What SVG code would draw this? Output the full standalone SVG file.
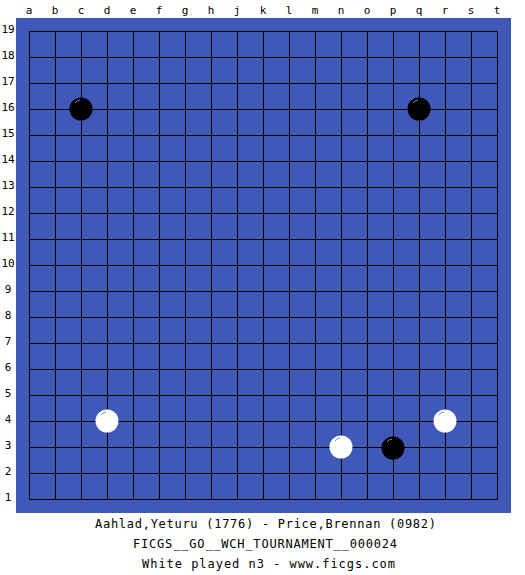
<svg xmlns="http://www.w3.org/2000/svg" width="525" height="575" viewBox="0 0 525 575">
<style>
.lbl{font-family:"DejaVu Sans Mono","Liberation Mono",monospace;font-size:11px;fill:#000;text-anchor:middle}
.cap{font-family:"DejaVu Sans Mono","Liberation Mono",monospace;font-size:12px;fill:#000}
.grid line{stroke:#000;stroke-width:1}
.b{fill:#000}
.w{fill:#fff}
.hb{fill:none;stroke:#8890b8;stroke-width:1}
.hw{fill:none;stroke:#7890c0;stroke-width:1}
</style>
<rect width="525" height="575" fill="#fff"/>
<rect x="16" y="18" width="495" height="495" fill="#4058b8"/>
<g class="grid" id="grid">
<line x1="29.5" y1="31.5" x2="29.5" y2="499.5"/><line x1="55.5" y1="31.5" x2="55.5" y2="499.5"/><line x1="81.5" y1="31.5" x2="81.5" y2="499.5"/><line x1="107.5" y1="31.5" x2="107.5" y2="499.5"/><line x1="133.5" y1="31.5" x2="133.5" y2="499.5"/><line x1="159.5" y1="31.5" x2="159.5" y2="499.5"/><line x1="185.5" y1="31.5" x2="185.5" y2="499.5"/><line x1="211.5" y1="31.5" x2="211.5" y2="499.5"/><line x1="237.5" y1="31.5" x2="237.5" y2="499.5"/><line x1="263.5" y1="31.5" x2="263.5" y2="499.5"/><line x1="289.5" y1="31.5" x2="289.5" y2="499.5"/><line x1="315.5" y1="31.5" x2="315.5" y2="499.5"/><line x1="341.5" y1="31.5" x2="341.5" y2="499.5"/><line x1="367.5" y1="31.5" x2="367.5" y2="499.5"/><line x1="393.5" y1="31.5" x2="393.5" y2="499.5"/><line x1="419.5" y1="31.5" x2="419.5" y2="499.5"/><line x1="445.5" y1="31.5" x2="445.5" y2="499.5"/><line x1="471.5" y1="31.5" x2="471.5" y2="499.5"/><line x1="497.5" y1="31.5" x2="497.5" y2="499.5"/>
<line x1="29.5" y1="31.5" x2="497.5" y2="31.5"/><line x1="29.5" y1="57.5" x2="497.5" y2="57.5"/><line x1="29.5" y1="83.5" x2="497.5" y2="83.5"/><line x1="29.5" y1="109.5" x2="497.5" y2="109.5"/><line x1="29.5" y1="135.5" x2="497.5" y2="135.5"/><line x1="29.5" y1="161.5" x2="497.5" y2="161.5"/><line x1="29.5" y1="187.5" x2="497.5" y2="187.5"/><line x1="29.5" y1="213.5" x2="497.5" y2="213.5"/><line x1="29.5" y1="239.5" x2="497.5" y2="239.5"/><line x1="29.5" y1="265.5" x2="497.5" y2="265.5"/><line x1="29.5" y1="291.5" x2="497.5" y2="291.5"/><line x1="29.5" y1="317.5" x2="497.5" y2="317.5"/><line x1="29.5" y1="343.5" x2="497.5" y2="343.5"/><line x1="29.5" y1="369.5" x2="497.5" y2="369.5"/><line x1="29.5" y1="395.5" x2="497.5" y2="395.5"/><line x1="29.5" y1="421.5" x2="497.5" y2="421.5"/><line x1="29.5" y1="447.5" x2="497.5" y2="447.5"/><line x1="29.5" y1="473.5" x2="497.5" y2="473.5"/><line x1="29.5" y1="499.5" x2="497.5" y2="499.5"/>
</g>
<g id="col-labels">
<text class="lbl" x="29" y="14">a</text><text class="lbl" x="55" y="14">b</text><text class="lbl" x="81" y="14">c</text><text class="lbl" x="107" y="14">d</text><text class="lbl" x="133" y="14">e</text><text class="lbl" x="159" y="14">f</text><text class="lbl" x="185" y="14">g</text><text class="lbl" x="211" y="14">h</text><text class="lbl" x="237" y="14">j</text><text class="lbl" x="263" y="14">k</text><text class="lbl" x="289" y="14">l</text><text class="lbl" x="315" y="14">m</text><text class="lbl" x="341" y="14">n</text><text class="lbl" x="367" y="14">o</text><text class="lbl" x="393" y="14">p</text><text class="lbl" x="419" y="14">q</text><text class="lbl" x="445" y="14">r</text><text class="lbl" x="471" y="14">s</text><text class="lbl" x="497" y="14">t</text>
</g>
<g id="row-labels">
<text class="lbl" x="8" y="33">19</text><text class="lbl" x="8" y="59">18</text><text class="lbl" x="8" y="85">17</text><text class="lbl" x="8" y="111">16</text><text class="lbl" x="8" y="137">15</text><text class="lbl" x="8" y="163">14</text><text class="lbl" x="8" y="189">13</text><text class="lbl" x="8" y="215">12</text><text class="lbl" x="8" y="241">11</text><text class="lbl" x="8" y="267">10</text><text class="lbl" x="8" y="293">9</text><text class="lbl" x="8" y="319">8</text><text class="lbl" x="8" y="345">7</text><text class="lbl" x="8" y="371">6</text><text class="lbl" x="8" y="397">5</text><text class="lbl" x="8" y="423">4</text><text class="lbl" x="8" y="449">3</text><text class="lbl" x="8" y="475">2</text><text class="lbl" x="8" y="501">1</text>
</g>
<g id="stone-c16"><circle class="b" cx="81" cy="109" r="11.5"/><path class="hb" d="M75 103 Q77 100 80 100"/></g>
<g id="stone-q16"><circle class="b" cx="419" cy="109" r="11.5"/><path class="hb" d="M413 103 Q415 100 418 100"/></g>
<g id="stone-p3"><circle class="b" cx="393" cy="448" r="11.5"/><path class="hb" d="M387 442 Q389 439 392 439"/></g>
<g id="stone-d4"><circle class="w" cx="107" cy="421" r="11.5"/><path class="hw" d="M101 415 Q103 412 106 412"/></g>
<g id="stone-n3"><circle class="w" cx="341" cy="447" r="11.5"/><path class="hw" d="M335 441 Q337 438 340 438"/></g>
<g id="stone-r4"><circle class="w" cx="445" cy="421" r="11.5"/><path class="hw" d="M439 415 Q441 412 444 412"/></g>
<g id="caption">
<text class="cap" x="95" y="528" textLength="341" lengthAdjust="spacing">Aahlad,Yeturu (1776) - Price,Brennan (0982)</text>
<text class="cap" x="133" y="548" textLength="264" lengthAdjust="spacing">FICGS__GO__WCH_TOURNAMENT__000024</text>
<text class="cap" x="142" y="568" textLength="253" lengthAdjust="spacing">White played n3 - www.ficgs.com</text>
</g>
</svg>
